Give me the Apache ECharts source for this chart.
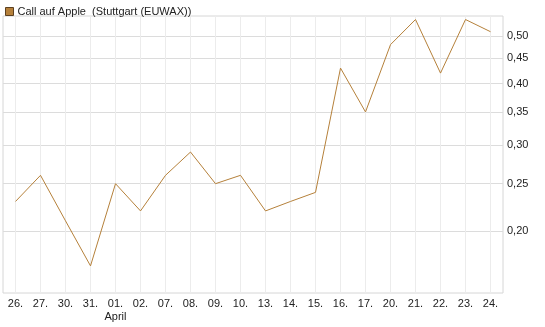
<!DOCTYPE html>
<html>
<head>
<meta charset="utf-8">
<script src="https://cdn.jsdelivr.net/npm/echarts@6/dist/echarts.min.js"></script>
<style>
  html, body { margin: 0; padding: 0; background: #fff; }
  #chart { width: 545px; height: 327px; }
</style>
</head>
<body>
<div id="chart"></div>
<script>
var days = ['26.', '27.', '30.', '31.', '01.', '02.', '07.', '08.', '09.', '10.',
            '13.', '14.', '15.', '16.', '17.', '20.', '21.', '22.', '23.', '24.'];
var monthAt = { 4: 'April' };
var prices = [0.23, 0.26, 0.21, 0.17, 0.25, 0.22, 0.26, 0.29, 0.25, 0.26,
              0.22, 0.23, 0.24, 0.43, 0.35, 0.48, 0.54, 0.42, 0.54, 0.51];
var yTicks = [0.20, 0.25, 0.30, 0.35, 0.40, 0.45, 0.50];
var seriesName = 'Call auf Apple  (Stuttgart (EUWAX))';

var lineColor = '#b5803a';
var ink = '#222';

var chart = echarts.init(document.getElementById('chart'), null, { renderer: 'canvas' });
chart.setOption({
  animation: false,
  textStyle: { fontFamily: 'Liberation Sans, Arial, sans-serif' },
  legend: {
    left: 0, top: 1,
    itemWidth: 8, itemHeight: 8, itemGap: 4,
    icon: 'rect',
    textStyle: { color: ink, fontSize: 11, padding: [0, 0, 0, -1] },
    data: [{ name: seriesName, itemStyle: { color: lineColor, borderColor: '#5c4020', borderWidth: 1 } }]
  },
  grid: {
    left: 3, right: 42, top: 16, bottom: 34,
    show: true, borderColor: '#d6d6d6', borderWidth: 1
  },
  xAxis: {
    type: 'category',
    data: days,
    boundaryGap: true,
    axisLine: { show: false },
    axisTick: { show: false, alignWithLabel: true },
    axisLabel: {
      color: ink, fontSize: 11, margin: 4, interval: 0, lineHeight: 13,
      formatter: function (v, i) { return monthAt[i] ? v + '\n' + monthAt[i] : v; }
    },
    splitLine: { show: true, alignWithLabel: true, lineStyle: { color: '#ececec', width: 1 } }
  },
  yAxis: {
    type: 'log',
    logBase: 10,
    position: 'right',
    min: 0.1497,
    max: 0.549,
    axisLine: { show: false },
    axisTick: { show: false, customValues: yTicks },
    axisLabel: {
      color: ink, fontSize: 11, margin: 4,
      customValues: yTicks,
      formatter: function (v) { return v.toFixed(2).replace('.', ','); }
    },
    splitLine: { show: true, lineStyle: { color: '#dcdcdc', width: 1 } }
  },
  series: [{
    name: seriesName,
    type: 'line',
    data: prices,
    symbol: 'none',
    lineStyle: { color: lineColor, width: 1 },
    itemStyle: { color: lineColor }
  }]
});
</script>
</body>
</html>
